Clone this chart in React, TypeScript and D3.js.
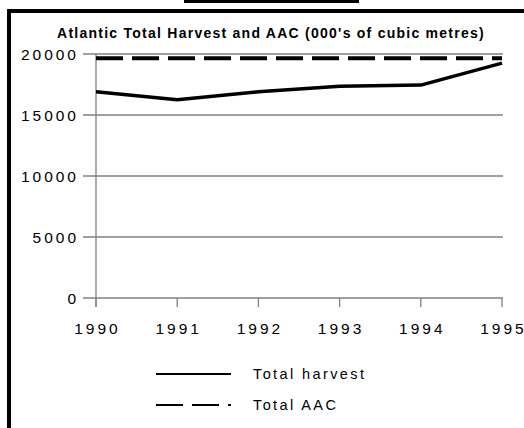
import React from "react";
import * as d3 from "d3";

const title = "Atlantic Total Harvest and AAC (000's of cubic metres)";
const years = [1990, 1991, 1992, 1993, 1994, 1995];
const totalHarvest = [16900, 16250, 16900, 17350, 17450, 19250];
const totalAAC = [19850, 19850, 19850, 19850, 19850, 19850];
const yTicks = [0, 5000, 10000, 15000, 20000];
const legendLabels = ["Total harvest", "Total AAC"];

const W = 524;
const H = 428;
const FONT = "'Liberation Sans', Arial, Helvetica, sans-serif";

export default function App() {
  const x = d3.scaleLinear().domain([1990, 1995]).range([96, 502]);
  const y = d3.scaleLinear().domain([0, 20000]).range([298, 54]);
  const line = d3
    .line<number>()
    .x((_, i) => x(years[i]))
    .y((d) => y(d));
  const grid = "#808080";

  return (
    <svg
      width={W}
      height={H}
      style={{ position: "absolute", left: 0, top: 0, background: "#fff" }}
    >
      <rect x={0} y={0} width={W} height={H} fill="#fff" />
      {/* frame fragments */}
      <rect x={184} y={0} width={175} height={3} fill="#000" />
      <rect x={7} y={9} width={W - 7} height={4} fill="#000" />
      <rect x={7} y={9} width={4} height={H - 9} fill="#000" />

      <text
        x={271}
        y={38}
        textAnchor="middle"
        fontFamily={FONT}
        fontWeight="bold"
        fontSize={14}
        letterSpacing={1.25}
        fill="#000"
      >
        {title}
      </text>

      {/* gridlines + y ticks */}
      {yTicks.map((t) => (
        <g key={t}>
          <line x1={83} x2={503} y1={y(t)} y2={y(t)} stroke={grid} strokeWidth={1.3} />
          <text
            x={79}
            y={y(t) + 5.5}
            textAnchor="end"
            fontFamily={FONT}
            fontSize={15.5}
            letterSpacing={3}
            fill="#000"
          >
            {t}
          </text>
        </g>
      ))}
      {/* y axis */}
      <line x1={96} x2={96} y1={y(20000)} y2={307} stroke={grid} strokeWidth={1.3} />
      {/* x ticks */}
      {years.map((yr) => (
        <g key={yr}>
          <line x1={x(yr)} x2={x(yr)} y1={298} y2={307} stroke={grid} strokeWidth={1.3} />
          <text
            x={x(yr) + 1.5}
            y={334}
            textAnchor="middle"
            fontFamily={FONT}
            fontSize={15.5}
            letterSpacing={3}
            fill="#000"
          >
            {yr}
          </text>
        </g>
      ))}

      {/* series */}
      <path
        d={line(totalAAC) || ""}
        fill="none"
        stroke="#000"
        strokeWidth={4}
        strokeDasharray="27,9"
        transform="translate(0,2.5)"
      />
      <path
        d={line(totalHarvest) || ""}
        fill="none"
        stroke="#000"
        strokeWidth={3.5}
        strokeLinejoin="round"
      />

      {/* legend */}
      <line x1={156} x2={231} y1={374} y2={374} stroke="#000" strokeWidth={2} />
      <line
        x1={156}
        x2={231}
        y1={405}
        y2={405}
        stroke="#000"
        strokeWidth={2}
        strokeDasharray="27,9"
      />
      {legendLabels.map((l, i) => (
        <text
          key={l}
          x={253}
          y={379 + i * 31}
          fontFamily={FONT}
          fontSize={14.5}
          letterSpacing={2.4}
          fill="#000"
        >
          {l}
        </text>
      ))}
    </svg>
  );
}
